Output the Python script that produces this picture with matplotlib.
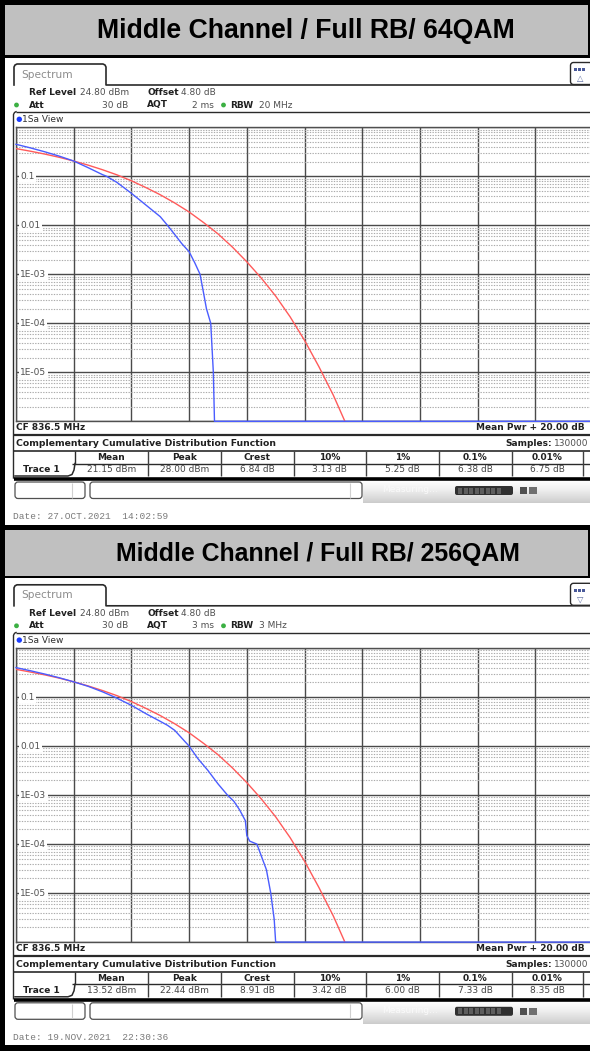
import numpy as np
import matplotlib
matplotlib.use("Agg")
import matplotlib.pyplot as plt
from matplotlib.patches import Rectangle, FancyBboxPatch, Circle
from matplotlib.ticker import LogLocator, FixedLocator
import matplotlib.transforms as mtransforms

# ---------------- data ----------------
titles = ["Middle Channel / Full RB/ 64QAM", "Middle Channel / Full RB/ 256QAM"]
aqt_vals = ["2 ms", "3 ms"]
rbw_vals = ["20 MHz", "3 MHz"]
table_cols = ["Mean", "Peak", "Crest", "10%", "1%", "0.1%", "0.01%"]
table_vals_64 = ["21.15 dBm", "28.00 dBm", "6.84 dB", "3.13 dB", "5.25 dB", "6.38 dB", "6.75 dB"]
table_vals_256 = ["13.52 dBm", "22.44 dBm", "8.91 dB", "3.42 dB", "6.00 dB", "7.33 dB", "8.35 dB"]
dates = ["Date: 27.OCT.2021  14:02:59", "Date: 19.NOV.2021  22:30:36"]
y_tick_vals = [0.1, 0.01, 1e-3, 1e-4, 1e-5]
y_tick_labels = ["0.1", "0.01", "1E-03", "1E-04", "1E-05"]
x_grid_db = [0, 2, 4, 6, 8, 10, 12, 14, 16, 18, 20]

# reference (Gaussian) trace, red
red_db = [0, 0.5, 1, 1.5, 2, 2.5, 3, 3.5, 4, 4.5, 5, 5.5, 6, 6.5, 7, 7.5,
          8, 8.5, 9, 9.5, 10, 10.5, 11, 11.4]
red_p = [0.368, 0.325, 0.284, 0.244, 0.205, 0.169, 0.136, 0.107, 0.081, 0.059,
         0.042, 0.0286, 0.0187, 0.0114, 0.0067, 0.0036, 0.0018, 8.4e-4, 3.6e-4,
         1.36e-4, 4.5e-5, 1.3e-5, 3.4e-6, 1.0e-6]

# measured trace 64QAM, blue
blue64_db = [0, 0.5, 1, 1.5, 2, 2.5, 3, 3.14, 3.5, 4, 4.5, 5, 5.25, 5.5, 5.75,
             6, 6.2, 6.38, 6.5, 6.6, 6.75, 6.84, 6.88, 20]
blue64_p = [0.45, 0.38, 0.316, 0.258, 0.205, 0.15, 0.108, 0.1, 0.075, 0.045,
            0.026, 0.015, 0.01, 0.0065, 0.0042, 0.0029, 0.0017, 1.0e-3, 4.2e-4,
            2.0e-4, 1.0e-4, 1.0e-5, 1.0e-6, 1.0e-6]

# measured trace 256QAM, blue
blue256_db = [0, 0.5, 1, 1.5, 2, 2.5, 3, 3.42, 4, 4.5, 5, 5.25, 5.5, 6.0, 6.3,
              6.65, 7.0, 7.33, 7.55, 7.75, 7.95, 8.0, 8.1, 8.35, 8.68, 8.83,
              8.95, 9.0, 20]
blue256_p = [0.40, 0.345, 0.295, 0.248, 0.205, 0.166, 0.128, 0.10, 0.068, 0.046,
             0.032, 0.0266, 0.021, 0.010, 0.0056, 0.0032, 0.0017, 1.0e-3, 7.5e-4,
             5.0e-4, 3.0e-4, 1.5e-4, 1.15e-4, 1.0e-4, 3.0e-5, 1.0e-5, 2.9e-6,
             1.0e-6, 1.0e-6]

# ---------------- figure ----------------
W, H = 590, 1051
plt.rcParams["font.family"] = ["DejaVu Sans"]
fig = plt.figure(figsize=(W / 100, H / 100), dpi=100, facecolor="black")
bg = fig.add_axes([0, 0, 1, 1])
bg.set_xlim(0, W)
bg.set_ylim(H, 0)
bg.axis("off")

DARK = "#2a2a2a"
FS = 6.5
title_sizes = [19.2, 17.9]
title_cx = [306, 318]


def hline(y, x0, x1, color=DARK, lw=1.0, z=2):
    bg.plot([x0, x1], [y, y], color=color, lw=lw, zorder=z, solid_capstyle="butt")


def vline(x, y0, y1, color=DARK, lw=1.0, z=2):
    bg.plot([x, x], [y0, y1], color=color, lw=lw, zorder=z, solid_capstyle="butt")


def draw_panel(idx, o, head_top, head_bot, vals, bdb, bp):
    # header band
    bg.add_patch(Rectangle((5, head_top), 583, head_bot - head_top, fc="#c0c0c0", ec="none", zorder=1))
    bg.text(title_cx[idx], (head_top + head_bot) / 2 + 1, titles[idx], family="Liberation Sans",
            weight="bold", fontsize=title_sizes[idx], ha="center", va="center", color="black", zorder=3)
    # white body
    bg.add_patch(Rectangle((5, 57.5 + o), 585, 467, fc="white", ec="none", zorder=1))

    # Spectrum tab
    tab = [(14, 85), (14, 67), (15, 65), (17, 64), (103, 64), (105, 65), (106, 67), (106, 85), (590, 85)]
    bg.plot([p[0] for p in tab], [p[1] + o for p in tab], color=DARK, lw=1.2, zorder=2)
    bg.text(21.7, 74.5 + o, "Spectrum", fontsize=7.6, color="#8c8c8c", va="center", zorder=3)
    # icon
    bg.add_patch(FancyBboxPatch((570.5, 62.5 + o), 22, 22, boxstyle="round,pad=0,rounding_size=3",
                                fc="white", ec=DARK, lw=1.0, zorder=2))
    for k in range(3):
        bg.add_patch(Rectangle((574 + k * 4, 68 + o), 3, 3, fc="#4a5a9a", ec="none", zorder=3))
    bg.text(580, 78.5 + o, "\u25b3" if idx == 0 else "\u25bd", fontsize=6, color="#5a6aa0",
            ha="center", va="center", zorder=3)

    # info rows
    y1 = 92.7 + o
    y2 = 105 + o
    bg.text(29, y1, "Ref Level", fontsize=FS, weight="bold", color="#202020", va="center")
    bg.text(80, y1, "24.80 dBm", fontsize=FS, color="#505050", va="center")
    bg.text(147, y1, "Offset", fontsize=FS, weight="bold", color="#202020", va="center")
    bg.text(181, y1, "4.80 dB", fontsize=FS, color="#505050", va="center")
    bg.add_patch(Circle((16.5, y2), 2.4, fc="#3cb043", ec="none", zorder=3))
    bg.text(29, y2, "Att", fontsize=FS, weight="bold", color="#202020", va="center")
    bg.text(128, y2, "30 dB", fontsize=FS, color="#505050", va="center", ha="right")
    bg.text(147, y2, "AQT", fontsize=FS, weight="bold", color="#202020", va="center")
    bg.text(214, y2, aqt_vals[idx], fontsize=FS, color="#505050", va="center", ha="right")
    bg.add_patch(Circle((223.5, y2), 2.4, fc="#3cb043", ec="none", zorder=3))
    bg.text(230, y2, "RBW", fontsize=FS, weight="bold", color="#202020", va="center")
    bg.text(259, y2, rbw_vals[idx], fontsize=FS, color="#505050", va="center")

    # view box
    hline(111.7 + o, 16, 590)
    bg.plot([13.5, 13.5, 14.5, 16], [478 + o, 114.5 + o, 112.5 + o, 111.7 + o], color=DARK, lw=1.0, zorder=2)
    bg.add_patch(Circle((19.3, 119.3 + o), 2.7, fc="#1a3cff", ec="none", zorder=3))
    bg.text(22.5, 119.3 + o, "1Sa View", fontsize=FS, color="#303030", va="center")

    # ---- plot axes ----
    top, bot = 127.3 + o, 421.3 + o
    ax = fig.add_axes([16 / W, 1 - bot / H, 577 / W, (bot - top) / H])
    ax.set_facecolor("white")
    ax.set_yscale("log")
    ax.set_xlim(0, 20)
    ax.set_ylim(1e-6, 1)
    ax.xaxis.set_major_locator(FixedLocator(x_grid_db))
    ax.yaxis.set_major_locator(LogLocator(base=10, numticks=10))
    ax.yaxis.set_minor_locator(LogLocator(base=10, subs=np.arange(2, 10), numticks=20))
    ax.grid(True, which="major", axis="both", color="#4a4a4a", lw=1.0)
    ax.grid(True, which="minor", axis="y", color="#ababab", lw=0.8, linestyle=(0, (1.2, 1.2)))
    ax.tick_params(which="both", length=0, labelbottom=False, labelleft=False)
    for s in ax.spines.values():
        s.set_color("#505050")
        s.set_linewidth(1.0)
    trans = mtransforms.blended_transform_factory(ax.transAxes, ax.transData)
    for v, lab in zip(y_tick_vals, y_tick_labels):
        ax.text(0.0075, v, lab, transform=trans, fontsize=FS, color="#505050", ha="left",
                va="center", zorder=3, bbox=dict(fc="white", ec="none", pad=0.8))
    ax.plot(red_db, red_p, color="#ff5a5a", lw=1.0, zorder=4)
    ax.plot(bdb, bp, color="#4a5cff", lw=1.0, zorder=5, clip_on=False)

    # ---- lower info / table ----
    bg.text(16, 427.5 + o, "CF 836.5 MHz", fontsize=FS, weight="bold", color="#202020", va="center")
    bg.text(585, 427.5 + o, "Mean Pwr + 20.00 dB", fontsize=FS, weight="bold", color="#202020",
            va="center", ha="right")
    hline(435 + o, 13.5, 590, lw=1.6)
    bg.text(16, 443.3 + o, "Complementary Cumulative Distribution Function", fontsize=6.7,
            weight="bold", color="#202020", va="center")
    bg.text(552, 443.3 + o, "Samples:", fontsize=FS, weight="bold", color="#202020",
            va="center", ha="right")
    bg.text(588, 443.3 + o, "130000", fontsize=FS, color="#505050", va="center", ha="right")
    hline(450.7 + o, 13.5, 590, lw=1.2)

    col_x = [75, 147.7, 220.7, 293.5, 366, 439, 511.7, 583.3]
    hline(463.5 + o, 72, 590, lw=1.0)
    tabp = [(15, 476), (68, 476), (72, 474.5), (74, 470), (75, 463.5)]
    bg.plot([p[0] for p in tabp], [p[1] + o for p in tabp], color=DARK, lw=1.1, zorder=2)
    vline(75, 451 + o, 463.5 + o)
    for cx in col_x[1:]:
        vline(cx, 451 + o, 476 + o, color="#404040")
    for k, name in enumerate(table_cols):
        cxm = (col_x[k] + col_x[k + 1]) / 2
        bg.text(cxm, 457.5 + o, name, fontsize=FS, weight="bold", color="#202020",
                ha="center", va="center")
        bg.text(cxm, 470 + o, vals[k], fontsize=FS, color="#454545", ha="center", va="center")
    bg.text(41.7, 470 + o, "Trace 1", fontsize=FS, weight="bold", color="#202020",
            ha="center", va="center")
    hline(478.7 + o, 13.5, 590, color="black", lw=2.6)

    # status bar
    grad = np.linspace(0.0, 1.0, 64).reshape(-1, 1) * np.ones((1, 8))
    bg.imshow(grad, extent=(363, 590, 480 + o, 503 + o), cmap="Greys_r", vmin=-2.2, vmax=1.0,
              aspect="auto", zorder=1.5, origin="upper")
    bg.add_patch(FancyBboxPatch((15, 482 + o), 70, 16.5, boxstyle="round,pad=0,rounding_size=3",
                                fc="white", ec="#505050", lw=0.9, zorder=2))
    vline(71.7, 483 + o, 497.5 + o, color="#d0d0d0", lw=0.8)
    bg.add_patch(FancyBboxPatch((90, 482 + o), 272, 16.5, boxstyle="round,pad=0,rounding_size=3",
                                fc="white", ec="#505050", lw=0.9, zorder=2))
    vline(350, 483 + o, 497.5 + o, color="#d0d0d0", lw=0.8)
    bg.text(382, 490 + o, "Measuring...", fontsize=FS, color="#fafafa", va="center", zorder=3)
    bg.add_patch(FancyBboxPatch((455, 486 + o), 58, 9, boxstyle="round,pad=0,rounding_size=2",
                                fc="#303030", ec="none", zorder=3))
    for k in range(8):
        bg.add_patch(Rectangle((458 + k * 5.5, 487.5 + o), 4.2, 6, fc="#5e5e5e", ec="none", zorder=3.5))
    bg.add_patch(Rectangle((520, 487 + o), 7, 7, fc="#505050", ec="none", zorder=3))
    bg.add_patch(Rectangle((529, 487 + o), 8, 7, fc="#707070", ec="none", zorder=3))

    bg.text(13.3, 516.5 + o, dates[idx], family="Liberation Mono", fontsize=6.8,
            color="#7a7a7a", va="center")


draw_panel(0, 0.0, 4.5, 55.0, table_vals_64, blue64_db, blue64_p)
draw_panel(1, 520.8, 530.0, 576.0, table_vals_256, blue256_db, blue256_p)

fig.savefig("out.png", dpi=100, facecolor="black")
